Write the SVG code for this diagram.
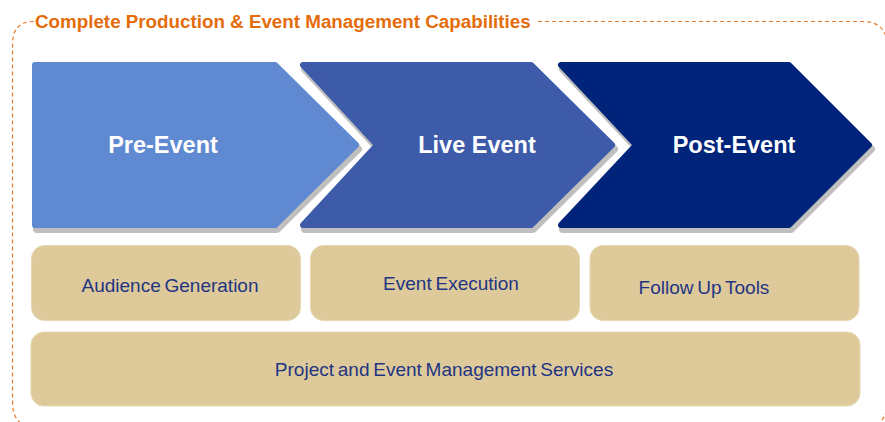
<svg xmlns="http://www.w3.org/2000/svg" width="885" height="422" viewBox="0 0 885 422">
<defs>
<style>
.frame{fill:none;stroke:#EA7A2A;stroke-width:1.2;stroke-dasharray:4 3}
.title{font-family:"Liberation Sans",Arial,sans-serif;font-weight:bold;font-size:18.8px;fill:#E46C0A}
.shadow{fill:#BFBFBF;stroke:#BFBFBF;stroke-width:8;stroke-linejoin:round}
.chev{stroke-width:6;stroke-linejoin:round}
.c1{fill:#5F89D0;stroke:#5F89D0}
.c2{fill:#3E5BA9;stroke:#3E5BA9}
.c3{fill:#00247A;stroke:#00247A}
.clabel{font-family:"Liberation Sans",Arial,sans-serif;font-weight:bold;font-size:23.5px;fill:#FFFFFF;text-anchor:middle}
.box{fill:#DDC99A;stroke:#E6D7B0;stroke-width:1}
.blabel{font-family:"Liberation Sans",Arial,sans-serif;font-size:19px;fill:#1F3583;text-anchor:middle;word-spacing:-1.5px}
</style>
</defs>
<path class="frame" d="M 538 21.5 H 862 Q 887 21.5 887 46 V 402 Q 887 428 862 428 H 38 Q 12.5 428 12.5 402 V 44 Q 12.5 21.5 34 21.5"/>
<text class="title" x="35" y="28">Complete Production &amp; Event Management Capabilities</text>
<g id="pre-event">
<path class="shadow" transform="translate(2,4)" d="M35 65 H275 L356 145 L275 225 H35 Z"/>
<path class="chev c1" d="M35 65 H275 L356 145 L275 225 H35 Z"/>
<text class="clabel" x="163" y="153">Pre-Event</text>
</g>
<g id="live-event">
<path class="shadow" transform="translate(2,4)" d="M303 65 H531 L612 145 L531 225 H303 L377 145 Z"/>
<path class="chev c2" d="M303 65 H531 L612 145 L531 225 H303 L377 145 Z"/>
<text class="clabel" x="477" y="153">Live Event</text>
</g>
<g id="post-event">
<path class="shadow" transform="translate(2,4)" d="M561 65 H789 L869 145 L789 225 H561 L636 145 Z"/>
<path class="chev c3" d="M561 65 H789 L869 145 L789 225 H561 L636 145 Z"/>
<text class="clabel" x="734" y="153">Post-Event</text>
</g>
<g id="audience-generation">
<rect class="box" x="31.5" y="245.5" width="269" height="75" rx="13"/>
<text class="blabel" x="170" y="292">Audience Generation</text>
</g>
<g id="event-execution">
<rect class="box" x="310.5" y="245.5" width="269" height="75" rx="13"/>
<text class="blabel" x="451" y="290">Event Execution</text>
</g>
<g id="follow-up-tools">
<rect class="box" x="590" y="245.5" width="269" height="75" rx="13"/>
<text class="blabel" x="704" y="294">Follow Up Tools</text>
</g>
<g id="project-services">
<rect class="box" x="31" y="332" width="829" height="74" rx="13"/>
<text class="blabel" x="444" y="376">Project and Event Management Services</text>
</g>
<g id="connectors"></g>
</svg>
